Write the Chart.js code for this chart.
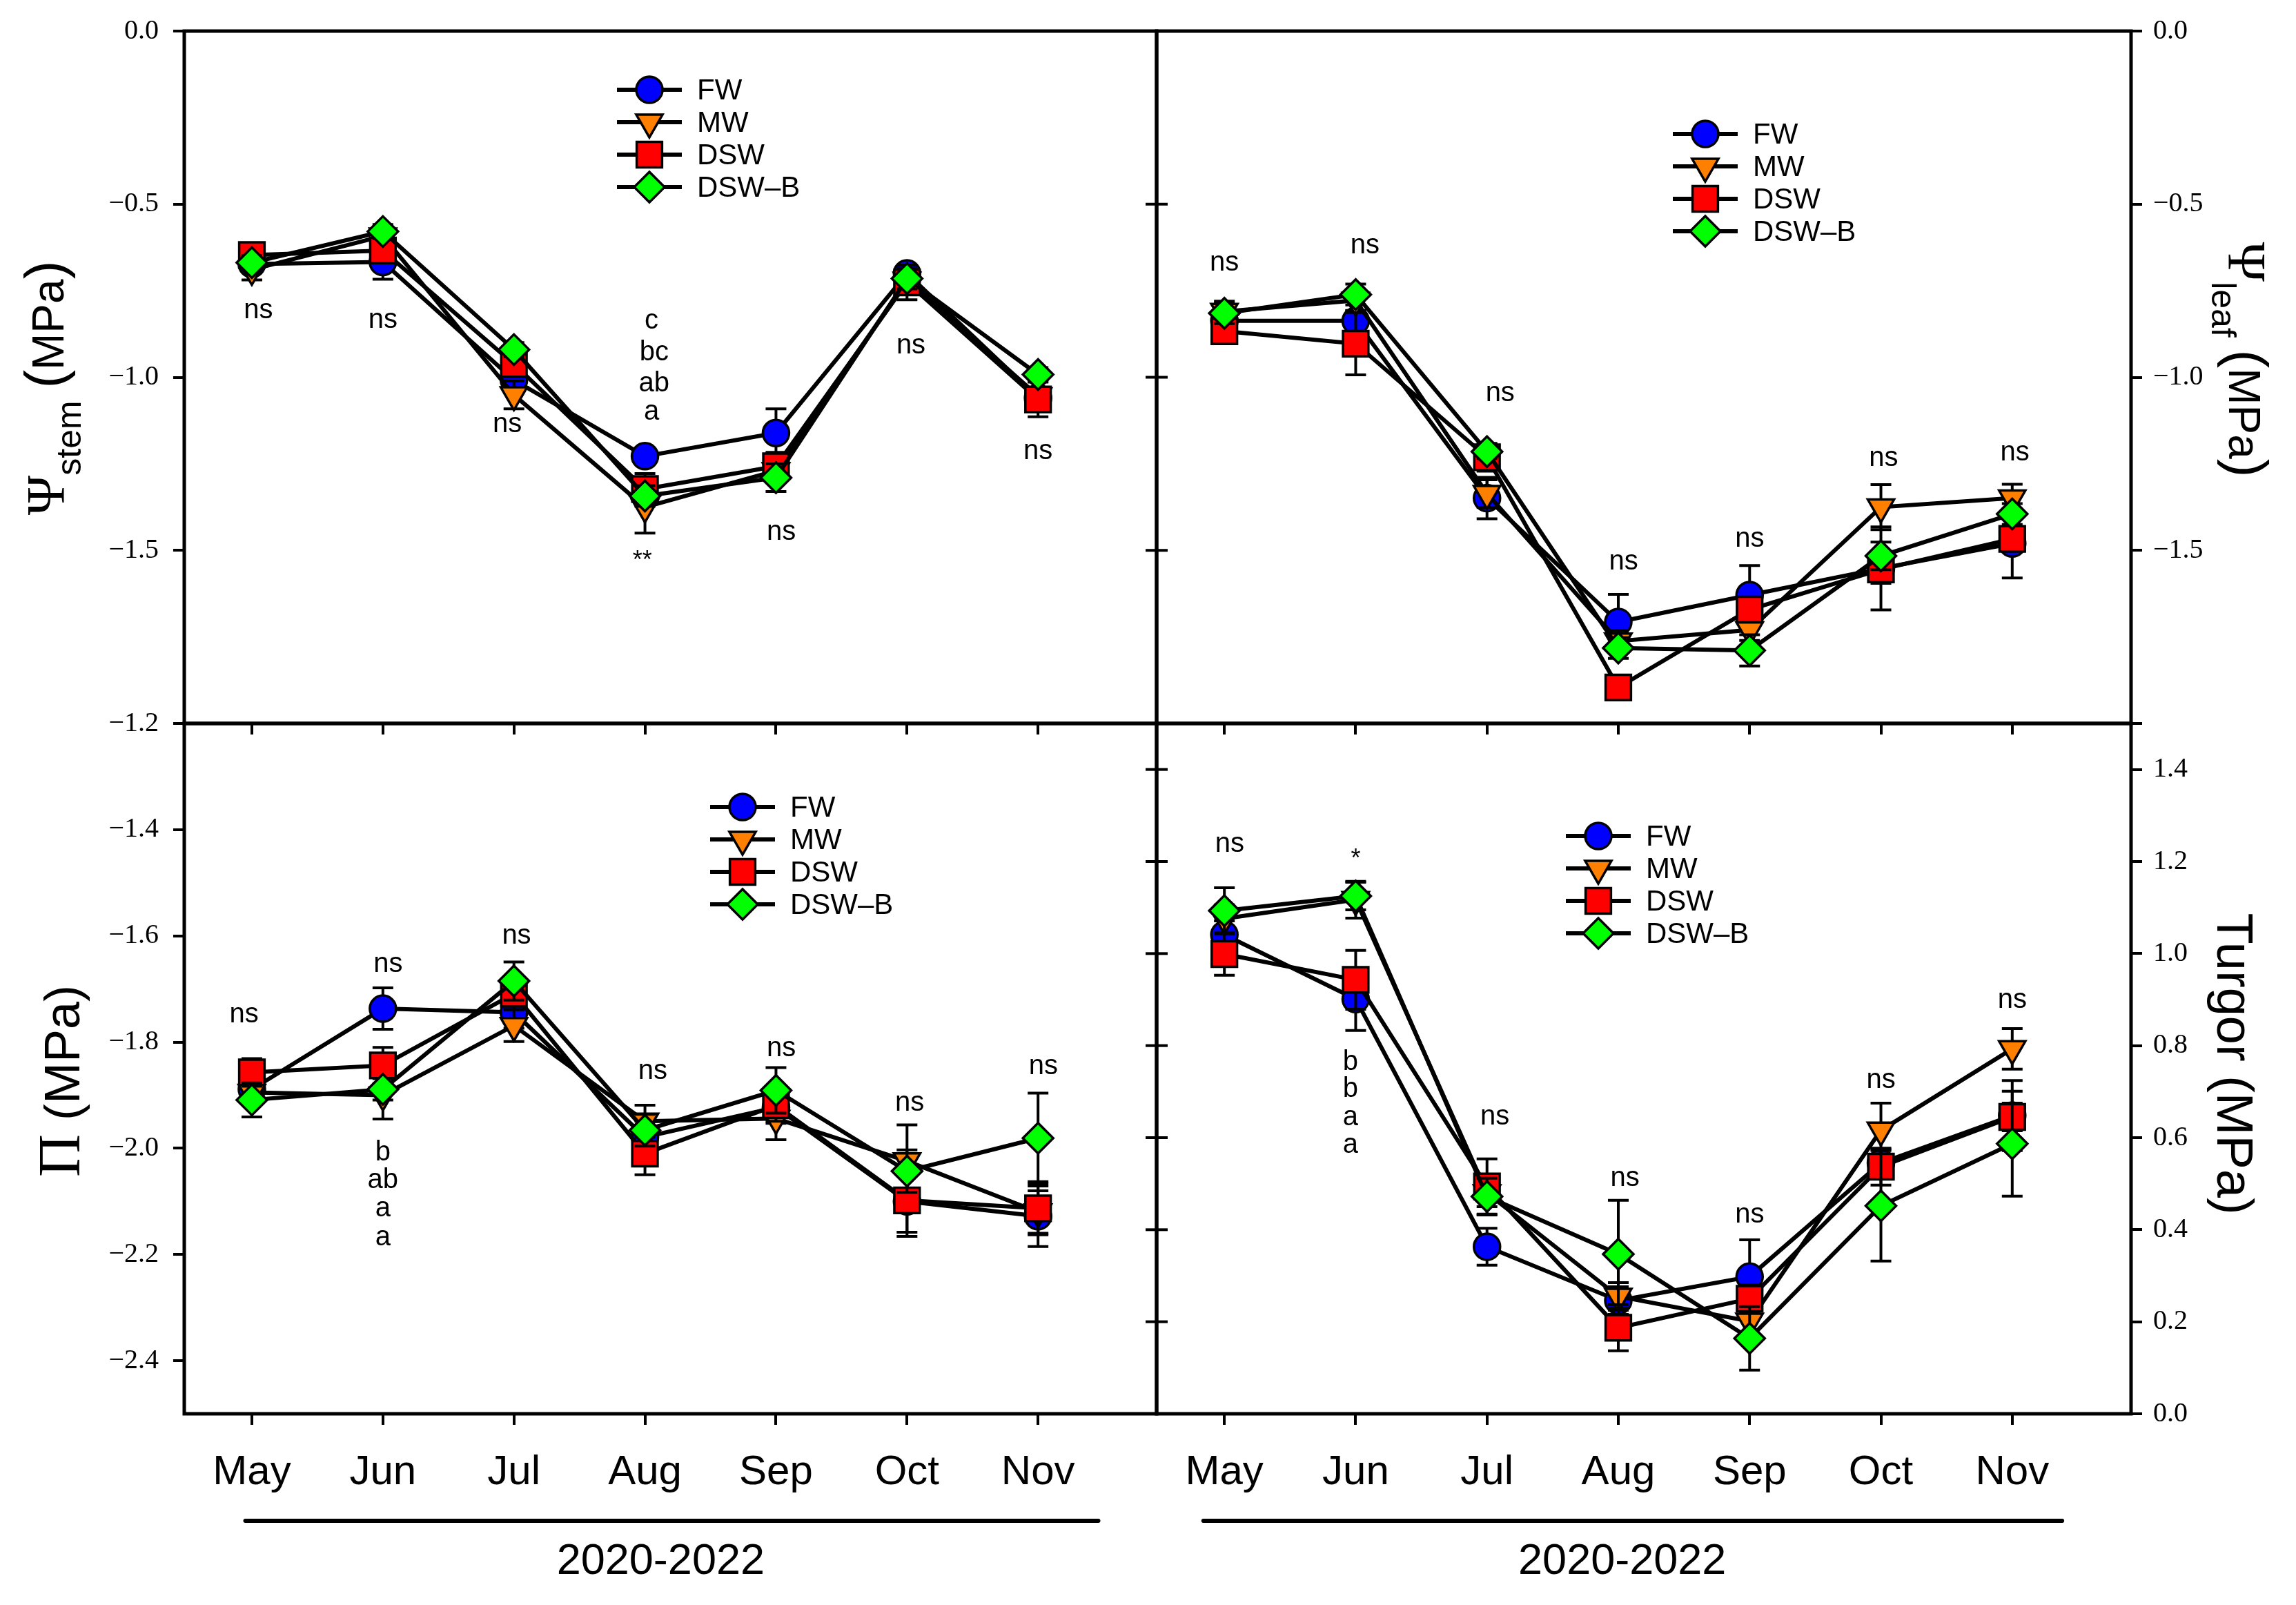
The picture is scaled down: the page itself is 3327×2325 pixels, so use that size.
<!DOCTYPE html>
<html>
<head>
<meta charset="utf-8">
<script src="https://cdn.jsdelivr.net/npm/chart.js@4.4.0/dist/chart.umd.min.js"></script>
<style>
  html, body { margin: 0; padding: 0; background: #fff; }
  #wrap { position: relative; width: 3327px; height: 2325px; }
  canvas { position: absolute; left: 0; top: 0; }
</style>
</head>
<body>
<div id="wrap">
  <canvas id="stem" width="3327" height="2325"></canvas>
  <canvas id="leaf" width="3327" height="2325"></canvas>
  <canvas id="osm" width="3327" height="2325"></canvas>
  <canvas id="turgor" width="3327" height="2325"></canvas>
</div>
<script>
// categories and series names
const months = ['May', 'Jun', 'Jul', 'Aug', 'Sep', 'Oct', 'Nov'];
const seriesNames = ['FW', 'MW', 'DSW', 'DSW–B'];

// stem water potential (MPa)
const stemFW   = [-0.673, -0.667, -1.008, -1.228, -1.161, -0.700, -1.060];
const stemMW   = [-0.689, -0.592, -1.051, -1.375, -1.270, -0.720, -1.054];
const stemDSW  = [-0.647, -0.634, -0.962, -1.323, -1.257, -0.726, -1.064];
const stemDSWB = [-0.669, -0.579, -0.920, -1.343, -1.290, -0.715, -0.992];
const stemErrFW   = [0.02, 0.05, 0.03, 0.02, 0.07, 0.02, 0.03];
const stemErrMW   = [0.03, 0.02, 0.04, 0.075, 0.03, 0.03, 0.02];
const stemErrDSW  = [0.02, 0.03, 0.03, 0.045, 0.04, 0.05, 0.05];
const stemErrDSWB = [0.02, 0.02, 0.02, 0.03, 0.04, 0.03, 0.02];

// leaf water potential (MPa)
const leafFW   = [-0.837, -0.837, -1.349, -1.707, -1.629, -1.552, -1.480];
const leafMW   = [-0.810, -0.778, -1.336, -1.762, -1.730, -1.375, -1.349];
const leafDSW  = [-0.867, -0.903, -1.231, -1.896, -1.671, -1.555, -1.467];
const leafDSWB = [-0.815, -0.761, -1.215, -1.782, -1.789, -1.516, -1.395];
const leafErrFW   = [0.03, 0.03, 0.06, 0.08, 0.085, 0.12, 0.10];
const leafErrMW   = [0.03, 0.03, 0.04, 0.03, 0.03, 0.065, 0.04];
const leafErrDSW  = [0.03, 0.09, 0.04, 0.03, 0.03, 0.04, 0.03];
const leafErrDSWB = [0.03, 0.03, 0.02, 0.03, 0.045, 0.04, 0.03];

// osmotic potential (MPa)
const osmFW   = [-1.889, -1.737, -1.744, -1.979, -1.923, -2.100, -2.128];
const osmMW   = [-1.895, -1.900, -1.769, -1.949, -1.944, -2.024, -2.120];
const osmDSW  = [-1.857, -1.844, -1.709, -2.010, -1.919, -2.098, -2.113];
const osmDSWB = [-1.909, -1.889, -1.685, -1.966, -1.891, -2.043, -1.981];
const osmErrFW   = [0.02, 0.039, 0.03, 0.03, 0.03, 0.066, 0.057];
const osmErrMW   = [0.02, 0.045, 0.03, 0.03, 0.04, 0.068, 0.04];
const osmErrDSW  = [0.026, 0.034, 0.03, 0.04, 0.03, 0.06, 0.05];
const osmErrDSWB = [0.032, 0.02, 0.036, 0.03, 0.043, 0.04, 0.085];

// turgor (MPa)
const turgFW   = [1.041, 0.901, 0.363, 0.246, 0.298, 0.545, 0.648];
const turgMW   = [1.076, 1.117, 0.480, 0.255, 0.201, 0.616, 0.793];
const turgDSW  = [0.999, 0.943, 0.494, 0.187, 0.250, 0.537, 0.645];
const turgDSWB = [1.093, 1.125, 0.472, 0.347, 0.164, 0.452, 0.587];
const turgErrFW   = [0.03, 0.068, 0.04, 0.03, 0.08, 0.03, 0.076];
const turgErrMW   = [0.03, 0.04, 0.03, 0.03, 0.03, 0.059, 0.044];
const turgErrDSW  = [0.046, 0.064, 0.06, 0.05, 0.03, 0.04, 0.03];
const turgErrDSWB = [0.05, 0.03, 0.04, 0.117, 0.069, 0.12, 0.114];

// tick values
const stemTicks = [0, -0.5, -1.0, -1.5, -2.0];
const leafTicks = [0, -0.5, -1.0, -1.5, -2.0];
const osmTicks = [-1.2, -1.4, -1.6, -1.8, -2.0, -2.2, -2.4];
const turgTicks = [0, 0.2, 0.4, 0.6, 0.8, 1.0, 1.2, 1.4];

// significance labels: [x position in month units, value, text]
const stemNotes = [[0.05, -0.808, 'ns'], [1, -0.835, 'ns'], [1.95, -1.136, 'ns'],
  [3.05, -0.837, 'c'], [3.07, -0.929, 'bc'], [3.07, -1.018, 'ab'], [3.05, -1.10, 'a'],
  [2.98, -1.532, '**'], [4.04, -1.447, 'ns'], [5.03, -0.909, 'ns'], [6, -1.215, 'ns']];
const leafNotes = [[0, -0.669, 'ns'], [1.07, -0.621, 'ns'], [2.1, -1.047, 'ns'], [3.04, -1.533, 'ns'],
  [4, -1.467, 'ns'], [5.02, -1.235, 'ns'], [6.02, -1.218, 'ns']];
const osmNotes = [[-0.06, -1.748, 'ns'], [1.04, -1.654, 'ns'], [2.02, -1.600, 'ns'], [3.06, -1.855, 'ns'],
  [4.04, -1.812, 'ns'], [5.02, -1.915, 'ns'], [6.04, -1.846, 'ns'],
  [1, -2.009, 'b'], [1, -2.060, 'ab'], [1, -2.114, 'a'], [1, -2.168, 'a']];
const turgNotes = [[0.04, 1.238, 'ns'], [1, 1.205, '*'], [0.96, 0.764, 'b'], [0.96, 0.705, 'b'],
  [0.96, 0.643, 'a'], [0.96, 0.583, 'a'], [2.06, 0.645, 'ns'], [3.05, 0.511, 'ns'],
  [4, 0.432, 'ns'], [5, 0.725, 'ns'], [6, 0.899, 'ns']];

const W = 3327, H = 2325;
const SANS = "'Liberation Sans', Arial, sans-serif";
const SERIF = "'Liberation Serif', 'Times New Roman', serif";
const xMin = -0.516, xMax = 6.905;

const markers = [
  { style: 'circle', r: 19, rot: 0, fill: '#0000ff' },
  { style: 'triangle', r: 22, rot: 180, fill: '#ff8000' },
  { style: 'rect', r: 26, rot: 0, fill: '#ff0000' },
  { style: 'rectRot', r: 22, rot: 0, fill: '#00ff00' }
];

function fmtTick(v) {
  if (Math.abs(v) < 1e-9) return '0.0';
  return (v < 0 ? '\u2212' : '') + Math.abs(v).toFixed(1);
}

function drawMarker(ctx, m, x, y) {
  ctx.beginPath();
  if (m.style === 'circle') {
    ctx.arc(x, y, m.r, 0, Math.PI * 2);
  } else if (m.style === 'triangle') {
    const s = Math.sin(Math.PI / 3) * m.r;
    ctx.moveTo(x, y + m.r);
    ctx.lineTo(x - s, y - m.r / 2);
    ctx.lineTo(x + s, y - m.r / 2);
  } else if (m.style === 'rect') {
    const h = m.r * Math.SQRT1_2;
    ctx.rect(x - h, y - h, 2 * h, 2 * h);
  } else {
    ctx.moveTo(x, y - m.r);
    ctx.lineTo(x + m.r, y);
    ctx.lineTo(x, y + m.r);
    ctx.lineTo(x - m.r, y);
  }
  ctx.closePath();
  ctx.fillStyle = m.fill;
  ctx.fill();
  ctx.lineWidth = 3.5;
  ctx.strokeStyle = '#000';
  ctx.stroke();
}

function drawTitle(ctx, t) {
  ctx.save();
  let total = 0;
  t.parts.forEach(pt => {
    ctx.font = pt.font;
    pt.w = ctx.measureText(pt.text).width;
    total += pt.w;
  });
  ctx.translate(t.x, t.y);
  ctx.rotate(t.side === 'left' ? -Math.PI / 2 : Math.PI / 2);
  ctx.fillStyle = '#000';
  ctx.textAlign = 'left';
  ctx.textBaseline = 'alphabetic';
  let x = -total / 2;
  t.parts.forEach(pt => {
    ctx.font = pt.font;
    ctx.fillText(pt.text, x, pt.dy || 0);
    x += pt.w;
  });
  ctx.restore();
}

function panelPlugin(p) {
  return {
    id: 'panel_' + p.id,
    beforeDatasetDraw(chart, args) {
      // error bars, drawn right before their own series
      const ctx = chart.ctx, xs = chart.scales.x, ys = chart.scales.y;
      const vals = p.series[args.index], errs = p.errs[args.index];
      ctx.save();
      ctx.strokeStyle = '#000';
      ctx.lineWidth = 4;
      vals.forEach((v, i) => {
        const px = xs.getPixelForValue(i);
        const top = ys.getPixelForValue(v + errs[i]);
        const bot = ys.getPixelForValue(v - errs[i]);
        ctx.beginPath();
        ctx.moveTo(px, top); ctx.lineTo(px, bot);
        ctx.moveTo(px - 15, top); ctx.lineTo(px + 15, top);
        ctx.moveTo(px - 15, bot); ctx.lineTo(px + 15, bot);
        ctx.stroke();
      });
      ctx.restore();
    },
    afterDraw(chart) {
      const ctx = chart.ctx, a = chart.chartArea, xs = chart.scales.x, ys = chart.scales.y;
      ctx.save();
      // frame
      ctx.strokeStyle = '#000';
      ctx.lineWidth = 5;
      ctx.strokeRect(a.left, a.top, a.right - a.left, a.bottom - a.top);
      // ticks crossing the shared left border
      if (p.crossLeft) {
        ctx.lineWidth = 4;
        p.ticks.forEach(v => {
          const py = ys.getPixelForValue(v);
          ctx.beginPath(); ctx.moveTo(a.left - 16, py); ctx.lineTo(a.left + 16, py); ctx.stroke();
        });
      }
      // significance labels
      ctx.fillStyle = '#000';
      ctx.textAlign = 'center';
      ctx.textBaseline = 'middle';
      p.notes.forEach(n => {
        ctx.font = (n[2].indexOf('*') >= 0 ? 36 : 40) + 'px ' + SANS;
        ctx.fillText(n[2], xs.getPixelForValue(n[0]), ys.getPixelForValue(n[1]));
      });
      // legend
      ctx.textAlign = 'left';
      ctx.font = '42px ' + SANS;
      seriesNames.forEach((name, k) => {
        const mx = a.left + p.legend.x, my = a.top + p.legend.y + k * 47;
        ctx.strokeStyle = '#000';
        ctx.lineWidth = 6;
        ctx.beginPath(); ctx.moveTo(mx - 47, my); ctx.lineTo(mx + 47, my); ctx.stroke();
        drawMarker(ctx, markers[k], mx, my);
        ctx.fillStyle = '#000';
        ctx.fillText(name, mx + 69, my + 2);
      });
      // axis title
      drawTitle(ctx, p.title);
      // year bar under the months
      if (p.bar) {
        const by = a.bottom + 155;
        ctx.strokeStyle = '#000';
        ctx.lineWidth = 6;
        ctx.lineCap = 'round';
        ctx.beginPath();
        ctx.moveTo(xs.getPixelForValue(p.bar[0]), by);
        ctx.lineTo(xs.getPixelForValue(p.bar[1]), by);
        ctx.stroke();
        ctx.font = '63px ' + SANS;
        ctx.textAlign = 'center';
        ctx.fillText('2020-2022', xs.getPixelForValue(p.bar[2]), a.bottom + 215);
      }
      ctx.restore();
    }
  };
}

function buildPanel(p) {
  const onRight = p.axisSide === 'right';
  const xH = p.showMonths ? 121 : 16;
  const yW = onRight ? W - p.area.right : p.area.left;
  return new Chart(document.getElementById(p.id), {
    type: 'line',
    data: {
      datasets: p.series.map((vals, k) => ({
        label: seriesNames[k],
        data: vals.map((v, i) => ({ x: i, y: v })),
        borderColor: '#000',
        borderWidth: 6,
        tension: 0,
        pointStyle: markers[k].style,
        pointRadius: markers[k].r,
        pointRotation: markers[k].rot,
        pointBackgroundColor: markers[k].fill,
        pointBorderColor: '#000',
        pointBorderWidth: 3.5,
        order: 3 - k,
        clip: false
      }))
    },
    options: {
      responsive: false,
      animation: false,
      events: [],
      layout: {
        padding: {
          left: onRight ? p.area.left : 0,
          right: onRight ? 0 : W - p.area.right,
          top: p.area.top,
          bottom: H - p.area.bottom - xH
        }
      },
      plugins: { legend: { display: false }, tooltip: { enabled: false } },
      scales: {
        x: {
          type: 'linear',
          min: xMin,
          max: xMax,
          afterBuildTicks: s => { s.ticks = months.map((m, i) => ({ value: i })); },
          afterFit: s => { s.height = xH; },
          grid: { drawOnChartArea: false, drawTicks: true, tickLength: 16, color: '#000', lineWidth: 4 },
          border: { display: false },
          ticks: {
            autoSkip: false, maxRotation: 0, padding: 33, color: '#000',
            font: { size: 60, family: SANS },
            callback: v => (p.showMonths ? months[v] : '')
          }
        },
        y: {
          position: p.axisSide,
          min: p.yMin,
          max: p.yMax,
          afterBuildTicks: s => { s.ticks = p.ticks.map(v => ({ value: v })); },
          afterFit: s => { s.width = yW; },
          grid: { drawOnChartArea: false, drawTicks: true, tickLength: 16, color: '#000', lineWidth: 4 },
          border: { display: false },
          ticks: {
            autoSkip: false, padding: onRight ? 16 : 21, color: '#000',
            font: { size: 40, family: SERIF },
            callback: v => (p.hidden.some(h => Math.abs(h - v) < 1e-9) ? '' : fmtTick(v))
          }
        }
      }
    },
    plugins: [panelPlugin(p)]
  });
}

const psiTitle = sub => [
  { text: 'Ψ', font: '78px ' + SERIF },
  { text: sub, font: '50px ' + SANS, dy: 25 },
  { text: ' ', font: '64px ' + SANS },
  { text: '(', font: '80px ' + SANS },
  { text: 'MPa', font: '64px ' + SANS },
  { text: ')', font: '80px ' + SANS }
];

buildPanel({
  id: 'stem', axisSide: 'left', showMonths: false,
  area: { left: 267, top: 45, right: 1676, bottom: 1048 },
  yMin: -2.0, yMax: 0, ticks: stemTicks, hidden: [-2.0],
  series: [stemFW, stemMW, stemDSW, stemDSWB],
  errs: [stemErrFW, stemErrMW, stemErrDSW, stemErrDSWB],
  notes: stemNotes,
  legend: { x: 674, y: 85 },
  title: { side: 'left', x: 92, y: 562, parts: psiTitle('stem') }
});

buildPanel({
  id: 'leaf', axisSide: 'right', showMonths: false, crossLeft: true,
  area: { left: 1676, top: 45, right: 3088, bottom: 1048 },
  yMin: -2.0, yMax: 0, ticks: leafTicks, hidden: [-2.0],
  series: [leafFW, leafMW, leafDSW, leafDSWB],
  errs: [leafErrFW, leafErrMW, leafErrDSW, leafErrDSWB],
  notes: leafNotes,
  legend: { x: 795, y: 149 },
  title: { side: 'right', x: 3230, y: 521, parts: psiTitle('leaf') }
});

buildPanel({
  id: 'osm', axisSide: 'left', showMonths: true,
  area: { left: 267, top: 1048, right: 1676, bottom: 2048 },
  yMin: -2.5, yMax: -1.2, ticks: osmTicks, hidden: [],
  series: [osmFW, osmMW, osmDSW, osmDSWB],
  errs: [osmErrFW, osmErrMW, osmErrDSW, osmErrDSWB],
  notes: osmNotes,
  legend: { x: 809, y: 121 },
  bar: [-0.05, 6.46, 3.12],
  title: { side: 'left', x: 115, y: 1566, parts: [
    { text: 'Π', font: '86px ' + SERIF },
    { text: ' (MPa)', font: '72px ' + SANS }
  ] }
});

buildPanel({
  id: 'turgor', axisSide: 'right', showMonths: true, crossLeft: true,
  area: { left: 1676, top: 1048, right: 3088, bottom: 2048 },
  yMin: 0, yMax: 1.5, ticks: turgTicks, hidden: [],
  series: [turgFW, turgMW, turgDSW, turgDSWB],
  errs: [turgErrFW, turgErrMW, turgErrDSW, turgErrDSWB],
  notes: turgNotes,
  legend: { x: 640, y: 163 },
  bar: [-0.16, 6.38, 3.03],
  title: { side: 'right', x: 3213, y: 1541, parts: [
    { text: 'Turgor (MPa)', font: '74px ' + SANS }
  ] }
});
</script>
</body>
</html>
